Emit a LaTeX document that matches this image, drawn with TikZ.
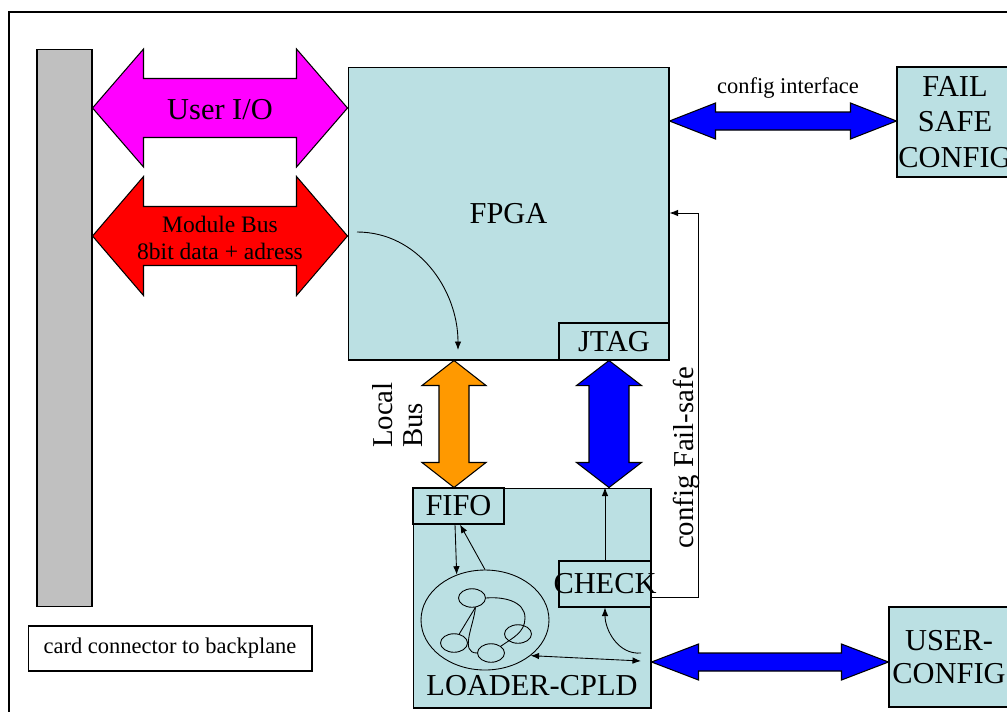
\documentclass[tikz,border=0pt]{standalone}
\usepackage{fontspec}
\setmainfont{Liberation Serif}
\usetikzlibrary{calc,arrows.meta,shapes.geometric}
\definecolor{cpld-fill}{HTML}{BBE0E3}
\definecolor{conn-grey}{HTML}{C0C0C0}
\definecolor{bus-magenta}{HTML}{FF00FF}
\definecolor{bus-red}{HTML}{FF0000}
\definecolor{bus-orange}{HTML}{FF9900}
\definecolor{bus-blue}{HTML}{0000FF}
\newcommand{\lblfont}{\fontsize{17.3}{20}\selectfont}
\newcommand{\midfont}{\fontsize{13.4}{15.3}\selectfont}
\newcommand{\notefont}{\fontsize{12.8}{15}\selectfont}
\newcommand{\sidefont}{\fontsize{16.4}{17}\selectfont}
% fat bus arrows: from, to, colour, half shaft, half head, head length
\newcommand{\hbus}[6]{%
  \filldraw[fill=#3, draw=black, line width=0.6pt] (#1) -- ($(#1)+(#6,-#5)$) -- ($(#1)+(#6,-#4)$)
    -- ($(#2)+(-#6,-#4)$) -- ($(#2)+(-#6,-#5)$) -- (#2) -- ($(#2)+(-#6,#5)$) -- ($(#2)+(-#6,#4)$)
    -- ($(#1)+(#6,#4)$) -- ($(#1)+(#6,#5)$) -- cycle;}
\newcommand{\vbus}[6]{%
  \filldraw[fill=#3, draw=black, line width=0.6pt] (#1) -- ($(#1)+(#5,#6)$) -- ($(#1)+(#4,#6)$)
    -- ($(#2)+(#4,-#6)$) -- ($(#2)+(#5,-#6)$) -- (#2) -- ($(#2)+(-#5,-#6)$) -- ($(#2)+(-#4,-#6)$)
    -- ($(#1)+(-#4,#6)$) -- ($(#1)+(-#5,#6)$) -- cycle;}
\tikzset{
  blk/.style={draw, fill=cpld-fill, line width=0.6pt, inner sep=0pt, font=\lblfont, align=center},
  sig/.style={line width=0.5pt, -{Latex[length=1.7mm,width=1.3mm]}},
  sigboth/.style={line width=0.5pt, {Latex[length=1.7mm,width=1.3mm]}-{Latex[length=1.7mm,width=1.3mm]}},
  state/.style={draw, ellipse, line width=0.5pt, inner sep=0pt, minimum width=5.4mm, minimum height=3.7mm},
}

\begin{document}
\begin{tikzpicture}[x=0.02cm, y=-0.02cm]
    \useasboundingbox (0,0) rectangle (1007,711);
    \clip (0,0) rectangle (1007,711);
    \draw[line width=0.7pt] (9,12) rectangle (1040,740);

    % boards and blocks
    \node[draw, fill=conn-grey, line width=0.6pt, minimum width=11mm, minimum height=111.6mm] (bar) at (64.5,328) {};
    \node[blk, minimum width=64.2mm, minimum height=58.6mm] (fpga) at (508.5,213.5) {FPGA};
    \node[blk, minimum width=22mm, minimum height=7.4mm] (jtag) at (614,341.5) {JTAG};
    \node[blk, minimum width=47.6mm, minimum height=44mm] (loader) at (532,598) {};
    \node[font=\lblfont] (loadertxt) at (532,686) {LOADER-CPLD};
    \node[blk, minimum width=18.2mm, minimum height=7.2mm] (fifo) at (458.5,506) {FIFO};
    \node[blk, minimum width=18.4mm, minimum height=9.2mm] (check) at (605,584) {};
    \node[font=\lblfont] (checktxt) at (check) {CHECK};
    \node[blk, minimum width=23.2mm, minimum height=22mm] (failsafe) at (955,122) {FAIL\\SAFE\\CONFIG};
    \node[blk, minimum width=24mm, minimum height=20mm, font=\fontsize{17.3}{18.7}\selectfont] (usercfg) at (949,657) {USER-\\CONFIG};
    \node[draw, line width=0.6pt, minimum width=56.8mm, minimum height=9mm, font=\notefont] (card) at (170,648.5) {card connector to backplane};

    % state machine inside the CPLD
    \node[draw, ellipse, line width=0.5pt, minimum width=25.6mm, minimum height=20mm] (core) at (485,620) {};
    \node[state] (st1) at (472,598) {};
    \node[state] (st2) at (454,643) {};
    \node[state] (st3) at (491,653) {};
    \node[state] (st4) at (518,634) {};
    \draw[line width=0.5pt] (st1.-70) -- (st2.60);
    \draw[line width=0.5pt] (st1.-70) to[out=-95,in=180] (st3.west);
    \draw[line width=0.5pt] (st1.east) to[out=5,in=90] (525,618) to[out=-90,in=35] (st3.north east);

    % buses
    \coordinate (uio-l) at (bar.east |- 0,108);
    \coordinate (uio-r) at (fpga.west |- 0,108);
    \coordinate (mb-l) at (bar.east |- 0,236);
    \coordinate (mb-r) at (fpga.west |- 0,236);
    \coordinate (lb-t) at (fpga.south -| 454,0);
    \coordinate (lb-b) at (loader.north -| 454,0);
    \coordinate (jt-t) at (jtag.south -| 609,0);
    \coordinate (jt-b) at (loader.north -| 609,0);
    \coordinate (ci-l) at (fpga.east |- 0,121);
    \coordinate (ci-r) at (failsafe.west |- 0,121);
    \coordinate (uc-l) at (loader.east |- 0,662);
    \coordinate (uc-r) at (usercfg.west |- 0,662);
    \hbus{uio-l}{uio-r}{bus-magenta}{29.5}{59}{51}
    \hbus{mb-l}{mb-r}{bus-red}{29.5}{59.5}{51}
    \vbus{lb-t}{lb-b}{bus-orange}{15}{32}{25}
    \vbus{jt-t}{jt-b}{bus-blue}{20}{32.5}{25}
    \hbus{ci-l}{ci-r}{bus-blue}{9}{18}{46}
    \hbus{uc-l}{uc-r}{bus-blue}{9}{18}{47}
    \node[font=\lblfont] (uiotxt) at (220,110) {User I/O};
    \node[font=\midfont, align=center] (mbtxt) at (220,238) {Module Bus\\8bit data + adress};
    \node[font=\notefont] (citxt) at (788,88) {config interface};
    \node[font=\sidefont, rotate=90, align=left] (lbtxt) at (398,415) {Local\\Bus};

    % signal paths
    \coordinate (lb-in) at (357,232);
    \coordinate (lb-out) at (458,350);
    \draw[sig] (lb-in) to[out=0,in=90] (lb-out);
    \draw[sig] ([xshift=-0.7mm]fifo.south) -- (core.122);
    \draw[sig] (core.north) -- ([xshift=0.3mm]fifo.south);
    \coordinate (ldr-port) at (641,661);
    \coordinate (ldr-chk) at (641,653);
    \draw[sigboth] (core.-38) -- (ldr-port);
    \draw[sig] (ldr-chk) to[out=185,in=270] (check.south);
    \draw[sig] (check.north) -- (check.north |- loader.north);
    \coordinate (fb-out) at (check.east |- 0,597);
    \coordinate (fb-in) at (fpga.east |- 0,213);
    \draw[sig] (fb-out) -- (fb-out -| 698,0) |- (fb-in);
    \node[font=\sidefont, rotate=90] (fbtxt) at (686,458) {config Fail-safe};
\end{tikzpicture}
\end{document}
